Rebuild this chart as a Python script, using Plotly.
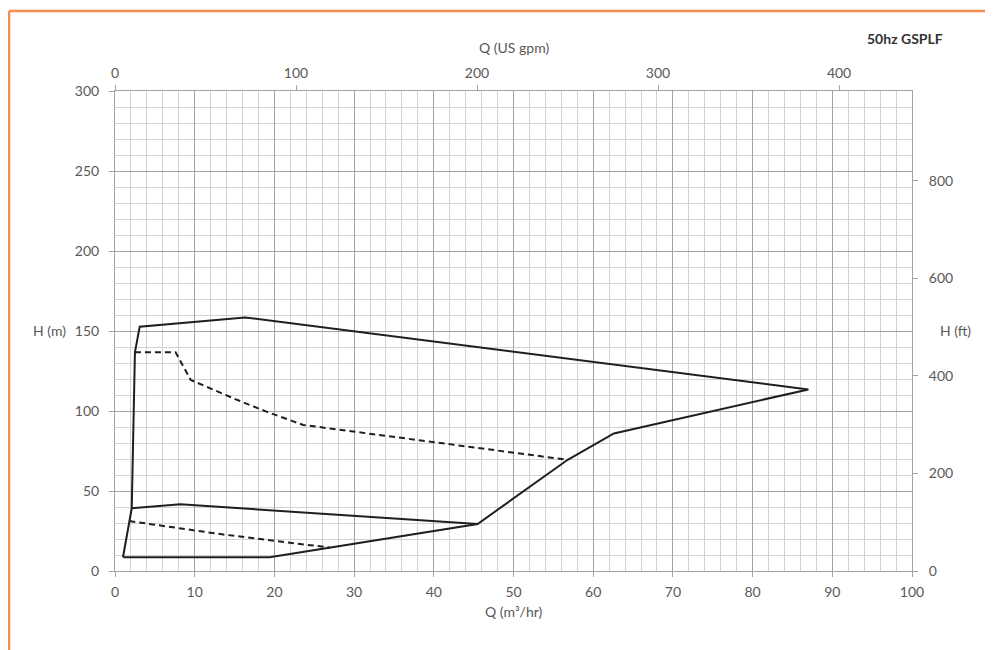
import plotly.graph_objects as go

# Envelope (solid) - Q in m3/hr, H in m
outer_q = [1.0, 19.4, 45.5, 56.8, 62.6, 87.0, 16.3, 3.1, 2.5, 2.1, 1.0]
outer_h = [8.6, 8.6, 29.4, 69.5, 86.0, 113.5, 158.5, 152.7, 136.7, 39.2, 8.6]

inner_q = [2.1, 8.2, 45.5]
inner_h = [39.2, 41.7, 29.4]

# dashed curves
dash_upper_q = [2.5, 7.6, 9.5, 15.3, 19.0, 23.6, 56.8]
dash_upper_h = [136.7, 136.7, 119.4, 107.0, 99.6, 91.3, 69.5]

dash_lower_q = [1.8, 13.6, 27.0]
dash_lower_h = [31.2, 22.8, 14.6]

GPM_PER_M3H = 4.40287
FT_PER_M = 3.28084
x_max = 100
y_max = 300

x_ticks = list(range(0, 101, 10))
y_ticks = list(range(0, 301, 50))
gpm_ticks = [0, 100, 200, 300, 400]
ft_ticks = [0, 200, 400, 600, 800]

FONT = "Lato"
TXT = "#595959"
LINE = "#1f1f1f"

# page is offset by the default 8px body margin
OFF = 8
FIG_W = 993 - OFF
FIG_H = 650 - OFF
PL, PR, PT, PB = 115, 912, 91, 571  # plot area in page pixels
ML = PL - OFF
MR = FIG_W - (PR - OFF)
MT = PT - OFF
MB = FIG_H - (PB - OFF)

fig = go.Figure()
fig.add_trace(go.Scatter(x=outer_q, y=outer_h, mode="lines",
                         line=dict(color=LINE, width=2), hoverinfo="skip", showlegend=False))
fig.add_trace(go.Scatter(x=inner_q, y=inner_h, mode="lines",
                         line=dict(color=LINE, width=2), hoverinfo="skip", showlegend=False))
fig.add_trace(go.Scatter(x=dash_upper_q, y=dash_upper_h, mode="lines",
                         line=dict(color=LINE, width=2, dash="6px,4px"), hoverinfo="skip", showlegend=False))
fig.add_trace(go.Scatter(x=dash_lower_q, y=dash_lower_h, mode="lines",
                         line=dict(color=LINE, width=2, dash="6px,4px"), hoverinfo="skip", showlegend=False))
# invisible trace to carry secondary axes
fig.add_trace(go.Scatter(x=[0, x_max * GPM_PER_M3H], y=[0, y_max * FT_PER_M], mode="markers",
                         marker=dict(opacity=0), xaxis="x2", yaxis="y2",
                         hoverinfo="skip", showlegend=False))

MAJ = "#a2a2a2"
MIN = "#d2d2d2"
tickfont = dict(family=FONT, size=14, color=TXT)

fig.update_layout(
    width=FIG_W, height=FIG_H,
    margin=dict(l=ML, r=MR, t=MT, b=MB, autoexpand=False),
    paper_bgcolor="white", plot_bgcolor="white",
    font=dict(family=FONT, color=TXT),
    xaxis=dict(range=[0, x_max], tickvals=x_ticks, showgrid=True, gridcolor=MAJ, gridwidth=1.3,
               minor=dict(dtick=2, showgrid=True, gridcolor=MIN, gridwidth=1),
               ticks="outside", ticklen=5, tickcolor=MAJ, showline=True, linecolor=MAJ,
               linewidth=1, zeroline=False, tickfont=tickfont, ticklabelstandoff=3),
    yaxis=dict(range=[0, y_max], tickvals=y_ticks, showgrid=True, gridcolor=MAJ, gridwidth=1.3,
               minor=dict(dtick=10, showgrid=True, gridcolor=MIN, gridwidth=1),
               ticks="outside", ticklen=5, tickcolor=MAJ, showline=True, linecolor=MAJ,
               linewidth=1, zeroline=False, tickfont=tickfont, ticklabelstandoff=7),
    xaxis2=dict(range=[0, x_max * GPM_PER_M3H], tickvals=gpm_ticks, overlaying="x", side="top",
                showgrid=False, ticks="outside", ticklen=5, tickcolor=MAJ, showline=True,
                linecolor=MAJ, zeroline=False, tickfont=tickfont, ticklabelstandoff=1),
    yaxis2=dict(range=[0, y_max * FT_PER_M], tickvals=ft_ticks, overlaying="y", side="right",
                showgrid=False, ticks="outside", ticklen=5, tickcolor=MAJ, showline=True,
                linecolor=MAJ, zeroline=False, tickfont=tickfont, ticklabelstandoff=8),
)

W = PR - PL
H = PB - PT


def px_x(p):
    return (p - PL) / W


def px_y(p):
    return (PB - p) / H


annos = [
    dict(text="Q (US gpm)", x=0.5, y=px_y(47), xanchor="center", yanchor="middle",
         font=dict(family=FONT, size=14, color=TXT)),
    dict(text="Q (m³/hr)", x=0.5, y=px_y(611), xanchor="center", yanchor="middle",
         font=dict(family=FONT, size=14, color=TXT)),
    dict(text="H (m)", x=px_x(49), y=px_y(330), xanchor="center", yanchor="middle",
         font=dict(family=FONT, size=14, color=TXT)),
    dict(text="H (ft)", x=px_x(955), y=px_y(330), xanchor="center", yanchor="middle",
         font=dict(family=FONT, size=14, color=TXT)),
    dict(text="<b>50hz GSPLF</b>", x=px_x(905), y=px_y(39), xanchor="center", yanchor="middle",
         font=dict(family=FONT, size=14, color="#333333")),
]
for a in annos:
    a.update(xref="paper", yref="paper", showarrow=False)
fig.update_layout(annotations=annos)

ORANGE = "#F68C52"
fig.add_shape(type="line", xref="paper", yref="paper", x0=px_x(9), x1=px_x(1000),
              y0=px_y(11), y1=px_y(11), line=dict(color=ORANGE, width=2.5))
fig.add_shape(type="line", xref="paper", yref="paper", x0=px_x(9), x1=px_x(9),
              y0=px_y(11), y1=px_y(660), line=dict(color=ORANGE, width=2.5))

fig.write_html("out.html")
